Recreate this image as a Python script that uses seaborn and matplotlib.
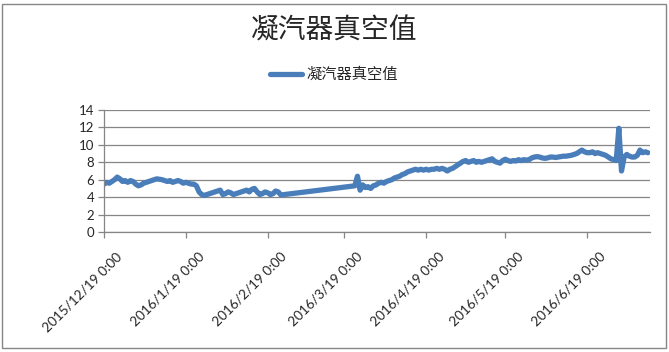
import numpy as np
import pandas as pd
import matplotlib
matplotlib.use("Agg")
import matplotlib.pyplot as plt
import matplotlib.dates as mdates
from matplotlib.patches import Rectangle
from matplotlib.transforms import ScaledTranslation
import seaborn as sns

# =====================
# DATA (one value per day)
# =====================
series_name = "凝汽器真空值"

# first stretch: 2015/12/19 .. 2016/2/24
seg1_start = "2015-12-19"
seg1_values = [
    5.5, 5.7, 5.6, 5.8, 6.0, 6.3, 6.1, 5.8, 5.9, 5.7,
    5.9, 5.8, 5.5, 5.3, 5.4, 5.6, 5.7, 5.8, 5.9, 6.0,
    6.1, 6.05, 6.0, 5.9, 5.8, 5.9, 5.7, 5.8, 5.9, 5.8,
    5.6, 5.7, 5.6, 5.5, 5.5, 5.3, 4.6, 4.3, 4.2, 4.3,
    4.4, 4.5, 4.6, 4.7, 4.8, 4.3, 4.4, 4.6, 4.5, 4.3,
    4.4, 4.5, 4.6, 4.7, 4.8, 4.6, 4.9, 5.0, 4.6, 4.3,
    4.4, 4.6, 4.5, 4.3, 4.4, 4.7, 4.6, 4.25,
]

# second stretch: 2016/3/23 .. 2016/7/12
seg2_start = "2016-03-23"
seg2_values = [
    5.3, 6.4, 4.8, 5.4, 5.1, 5.2, 5.0, 5.3, 5.4, 5.6,
    5.7, 5.6, 5.8, 5.9, 6.0, 6.2, 6.3, 6.4, 6.6, 6.7,
    6.9, 7.0, 7.1, 7.2, 7.1, 7.2, 7.1, 7.2, 7.1, 7.2,
    7.2, 7.3, 7.2, 7.3, 7.2, 7.0, 7.2, 7.3, 7.5, 7.7,
    7.9, 8.1, 8.2, 8.0, 8.1, 8.2, 8.0, 8.1, 8.0, 8.1,
    8.2, 8.3, 8.4, 8.1, 8.0, 7.9, 8.2, 8.35, 8.2, 8.1,
    8.2, 8.15, 8.3, 8.2, 8.3, 8.25, 8.3, 8.5, 8.6, 8.65,
    8.6, 8.5, 8.45, 8.5, 8.6, 8.6, 8.55, 8.6, 8.65, 8.7,
    8.7, 8.75, 8.8, 8.9, 9.0, 9.2, 9.4, 9.2, 9.1, 9.1,
    9.2, 9.0, 9.1, 9.0, 8.9, 8.8, 8.6, 8.4, 8.3, 8.2,
    11.9, 7.0, 8.6, 8.9, 8.7, 8.6, 8.6, 8.8, 9.4, 9.1,
    9.2, 9.1,
]

tick_dates = ["2015-12-19", "2016-01-19", "2016-02-19", "2016-03-19",
              "2016-04-19", "2016-05-19", "2016-06-19"]
tick_labels = ["2015/12/19 0:00", "2016/1/19 0:00", "2016/2/19 0:00", "2016/3/19 0:00",
               "2016/4/19 0:00", "2016/5/19 0:00", "2016/6/19 0:00"]
y_ticks = [0, 2, 4, 6, 8, 10, 12, 14]

dates = list(pd.date_range(seg1_start, periods=len(seg1_values), freq="D")) + \
        list(pd.date_range(seg2_start, periods=len(seg2_values), freq="D"))
df = pd.DataFrame({"time": dates, "value": seg1_values + seg2_values})

# =====================
# STYLE
# =====================
sns.set_style("white")
plt.rcParams["font.family"] = ["Lato", "Noto Sans CJK SC", "DejaVu Sans"]
line_color = "#4A7EBB"
grid_color = "#868686"

W, H = 669, 352
fig = plt.figure(figsize=(W / 100, H / 100), dpi=100)
ax = fig.add_axes([104 / W, 120 / H, 546 / W, 122 / H])

sns.lineplot(data=df, x="time", y="value", ax=ax, color=line_color,
             linewidth=3.8, sort=False, label=series_name)

# =====================
# AXES
# =====================
ax.set_ylim(0, 14)
ax.set_yticks(y_ticks)
x0 = pd.Timestamp("2015-12-19")
ax.set_xlim(x0, x0 + pd.Timedelta(days=206.8))
ax.set_xticks(pd.to_datetime(tick_dates))
ax.set_xticklabels(tick_labels, rotation=45, ha="right", va="top",
                   rotation_mode="anchor", fontsize=9.8)
ax.set_xlabel("")
ax.set_ylabel("")

ax.yaxis.grid(True, color=grid_color, linewidth=0.9)
ax.xaxis.grid(False)
for side in ["top", "right"]:
    ax.spines[side].set_visible(False)
for side in ["left", "bottom"]:
    ax.spines[side].set_color(grid_color)
    ax.spines[side].set_linewidth(0.9)
ax.tick_params(axis="both", direction="out", length=4, width=0.9, color=grid_color,
               left=True, bottom=True)
ax.tick_params(axis="y", labelsize=9.5, pad=3)
ax.tick_params(axis="x", pad=2)

offset = ScaledTranslation(12 / 100, -10 / 100, fig.dpi_scale_trans)
for lbl in ax.get_xticklabels():
    lbl.set_transform(lbl.get_transform() + offset)

# =====================
# TITLE / LEGEND / BORDER
# =====================
fig.text(0.5, 1 - 31 / H, series_name, ha="center", va="center", fontsize=20,
         family=["Noto Sans CJK SC"], weight="medium")
ax.legend(loc="center", bbox_to_anchor=(334 / W, 1 - 75 / H), bbox_transform=fig.transFigure,
          frameon=False, fontsize=11, handlelength=2.1, handletextpad=0.3)

fig.patches.append(Rectangle((2 / W, 4 / H), 664 / W, 344 / H, transform=fig.transFigure,
                             fill=False, edgecolor=grid_color, linewidth=1))

plt.savefig("out.png", dpi=100)
plt.close()
